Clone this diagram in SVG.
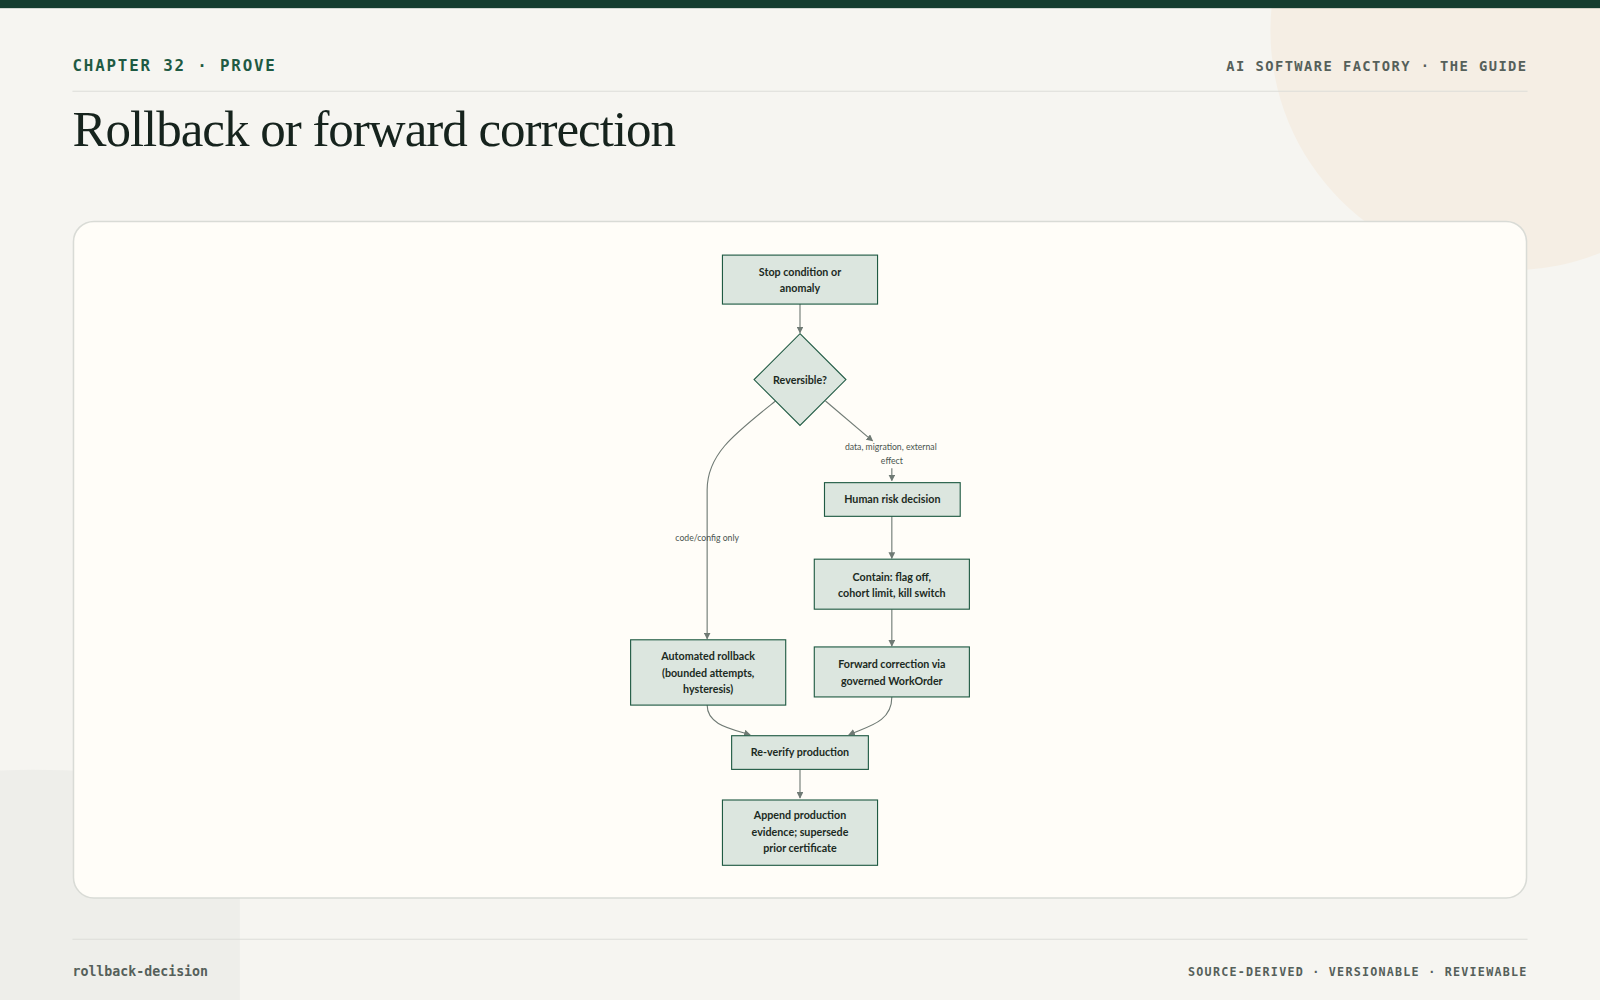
<svg xmlns="http://www.w3.org/2000/svg" width="1600" height="1000" viewBox="0 0 1600 1000">
<defs>
<style>
.n rect,.n polygon{fill:#dce6df;stroke:#1f5a43;stroke-width:1.1}
.n text{font-family:Lato,"Noto Sans",sans-serif;font-weight:bold;font-size:10.5px;fill:#1b2a22;text-anchor:middle}
.e path{fill:none;stroke:#6f7a74;stroke-width:1.1;marker-end:url(#a)}
.lbl{font-family:Lato,"Noto Sans",sans-serif;font-size:8.5px;fill:#4a544f;text-anchor:middle}
.mono{font-family:"DejaVu Sans Mono","Liberation Mono",monospace;font-weight:bold}
</style>
<marker id="a" viewBox="0 0 8 8" refX="7" refY="4" markerWidth="6" markerHeight="6" orient="auto"><path d="M0,0 L8,4 L0,8 z" fill="#6f7a74"/></marker>
</defs>
<g transform="scale(1.020408)">
<rect width="1568" height="980" fill="#f6f5f1"/>
<circle cx="1480" cy="30" r="235" fill="#f5eee4"/>
<path d="M0,755 Q150,750 235,790 L235,980 L0,980 Z" fill="#eeeeea"/>
<rect width="1568" height="8" fill="#143d2f"/>
<text x="71" y="70" class="mono" font-size="15.5" fill="#1f5a43" letter-spacing="1.8">CHAPTER 32 · PROVE</text>
<text x="1497" y="70" class="mono" font-size="13.5" fill="#55605a" letter-spacing="1.4" text-anchor="end">AI SOFTWARE FACTORY · THE GUIDE</text>
<line x1="71" y1="89.5" x2="1497" y2="89.5" stroke="#dcddd8"/>
<text x="71" y="143" font-family="'Liberation Serif',serif" font-size="50" fill="#16231d" letter-spacing="-1">Rollback or forward correction</text>
<rect x="72" y="217" width="1424" height="663" rx="20" fill="#fffdf8" stroke="#d9dbd6" stroke-width="1.5"/>
<line x1="71" y1="920.5" x2="1497" y2="920.5" stroke="#dcddd8"/>
<text x="71" y="956" class="mono" font-size="13" fill="#55605a">rollback-decision</text>
<text x="1497" y="956" class="mono" font-size="11.5" fill="#55605a" letter-spacing="1.2" text-anchor="end">SOURCE-DERIVED · VERSIONABLE · REVIEWABLE</text>

<g id="connectors" class="e">
<path d="M784,298 L784,326"/>
<path d="M760,393 C720,425 693,445 693,480 L693,626"/>
<path d="M809,393 L855,432"/>
<path d="M874,459 L874,471"/>
<path d="M874,506 L874,547"/>
<path d="M874,597 L874,633"/>
<path d="M693,691 C693,710 715,714 735,720"/>
<path d="M874,683 C874,708 850,712 832,720"/>
<path d="M784,754 L784,782"/>
</g>
<text class="lbl" x="693" y="530">code/config only</text>
<text class="lbl" x="873" y="441">data, migration, external</text>
<text class="lbl" x="874" y="455">effect</text>

<g id="stop" class="n"><rect x="708" y="250" width="152" height="48"/><text x="784" y="270">Stop condition or</text><text x="784" y="286">anomaly</text></g>
<g id="reversible" class="n"><polygon points="784,327 829,372 784,417 739,372"/><text x="784" y="376">Reversible?</text></g>
<g id="human" class="n"><rect x="808" y="473" width="133" height="33"/><text x="874.5" y="493">Human risk decision</text></g>
<g id="contain" class="n"><rect x="798" y="548" width="152" height="49"/><text x="874" y="569">Contain: flag off,</text><text x="874" y="585">cohort limit, kill switch</text></g>
<g id="forward" class="n"><rect x="798" y="634" width="152" height="49"/><text x="874" y="655">Forward correction via</text><text x="874" y="671">governed WorkOrder</text></g>
<g id="rollback" class="n"><rect x="618" y="627" width="152" height="64"/><text x="694" y="647">Automated rollback</text><text x="694" y="663">(bounded attempts,</text><text x="694" y="679">hysteresis)</text></g>
<g id="reverify" class="n"><rect x="717" y="721" width="134" height="33"/><text x="784" y="741">Re-verify production</text></g>
<g id="append" class="n"><rect x="708" y="784" width="152" height="64"/><text x="784" y="803">Append production</text><text x="784" y="819">evidence; supersede</text><text x="784" y="835">prior certificate</text></g>
</g>
</svg>
